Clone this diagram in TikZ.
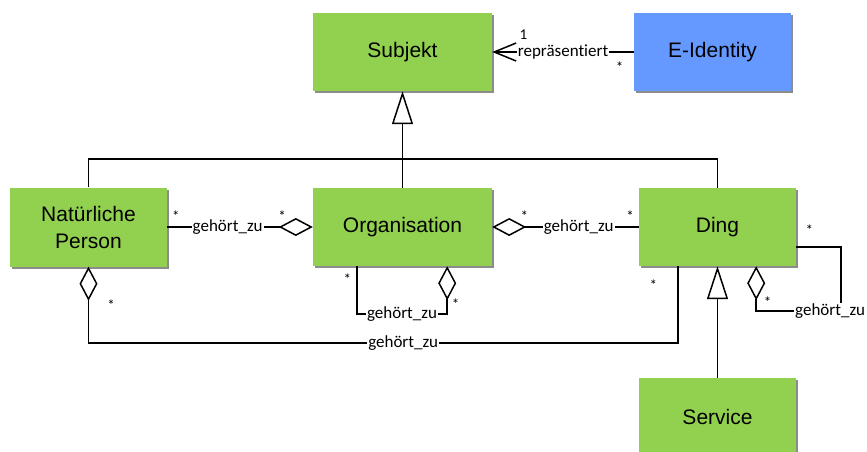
\documentclass[tikz,border=0pt]{standalone}
\usepackage{fontspec}
\setmainfont{Liberation Sans}
\newfontfamily\lblfont[Ligatures=NoCommon]{Carlito}
\usetikzlibrary{arrows.meta,calc,shadows}
\definecolor{umlgreen}{RGB}{146,208,80}
\definecolor{umlblue}{RGB}{102,153,255}

\begin{document}
\begin{tikzpicture}[x=1pt,y=-1pt,
	klasse/.style={fill=umlgreen, minimum width=157pt, minimum height=78pt, inner sep=0pt, align=center,
		font=\fontsize{21}{27}\selectfont, drop shadow={shadow xshift=2pt, shadow yshift=-2pt, fill=black!45, opacity=1}},
	line/.style={line width=1.5pt},
	gen/.style={line, arrows={Triangle[open, length=33pt, width=21pt]-}},
	agg/.style={line, arrows={-Diamond[open, length=34pt, width=18pt]}},
	nav/.style={line, arrows={Straight Barb[length=22pt, width=18pt]-}},
	rolle/.style={font=\lblfont\fontsize{17}{17}\selectfont, fill=white, inner sep=1pt},
	mult/.style={font=\lblfont\fontsize{15}{15}\selectfont, inner sep=1pt}]
	\useasboundingbox (0,0) rectangle (867,451);

	\node[klasse, minimum width=179pt] (subjekt) at (402.5,52) {Subjekt};
	\node[klasse, fill=umlblue] (eid) at (712.5,52) {E-Identity};
	\node[klasse, minimum height=79pt] (person) at (88.5,227) {Natürliche\\Person};
	\node[klasse, minimum width=179pt] (org) at (402.5,227) {Organisation};
	\node[klasse] (ding) at (717.5,227) {Ding};
	\node[klasse] (service) at (717.5,417) {Service};

	\coordinate (bus) at (0,159);
	\draw[gen] (subjekt.south) -- (subjekt.south |- bus);
	\draw[line] (person.north) |- (ding.north |- bus) -- (ding.north);
	\draw[line] (org.north) -- (org.north |- bus);
	\draw[gen] (ding.south) -- (service.north);

	\draw[nav] (subjekt.east) -- node[rolle, pos=0.5]{repräsentiert} node[mult, pos=0.22, above=11pt]{1}
		node[mult, pos=0.9, below=8pt]{*} (eid.west);

	\draw[agg] (person.east) -- node[rolle, pos=0.415]{gehört\_zu} node[mult, pos=0.06, above=4pt]{*}
		node[mult, pos=0.79, above=4pt]{*} (org.west);
	\draw[agg] (ding.west) -- node[rolle, pos=0.41]{gehört\_zu} node[mult, pos=0.06, above=4pt]{*}
		node[mult, pos=0.78, above=4pt]{*} (org.east);

	\coordinate (orgA) at ($(org.south west)+(44,0)$);
	\coordinate (orgB) at ($(org.south east)+(-45,0)$);
	\draw[agg] (orgA) -- node[mult, pos=0.28, left=4pt]{*} ++(0,48) -| node[rolle, pos=0.25]{gehört\_zu}
		node[mult, pos=0.6, right=3pt]{*} (orgB);

	\coordinate (dingA) at ($(ding.south west)+(39,0)$);
	\draw[agg] (dingA) -- node[mult, pos=0.24, left=19pt]{*} ++(0,77) -| node[rolle, pos=0.233]{gehört\_zu}
		node[mult, pos=0.75, right=17pt]{*} (person.south);

	\coordinate (dingB) at ($(ding.south east)+(-40,0)$);
	\coordinate (dingC) at ($(ding.east)+(0,20)$);
	\draw[agg] (dingC) -- node[mult, pos=0.29, above=10pt]{*} ++(45,0) -- ++(0,64) -| node[rolle, pos=0.065]{gehört\_zu}
		node[mult, pos=0.6, right=6pt]{*} (dingB);
\end{tikzpicture}
\end{document}
